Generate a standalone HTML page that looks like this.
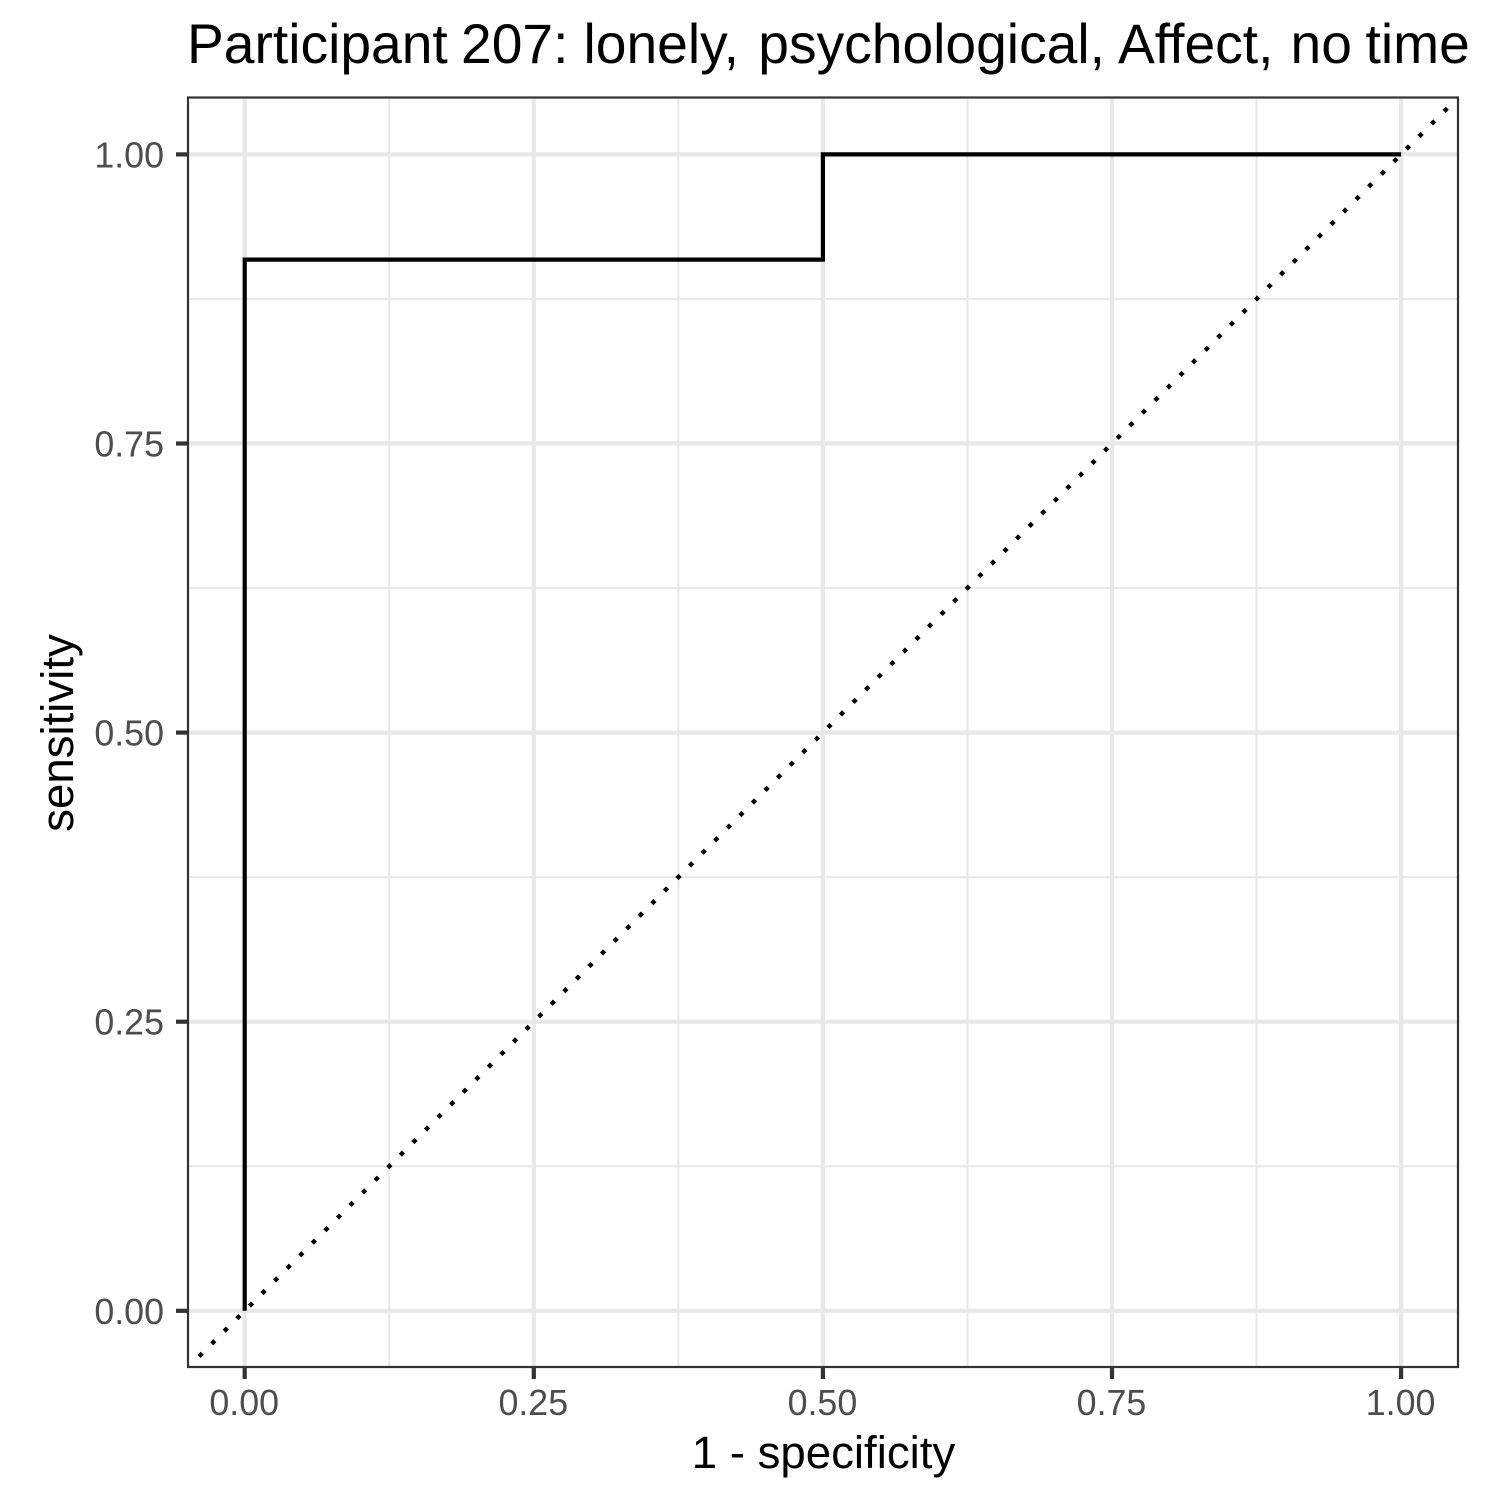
<!DOCTYPE html>
<html lang="en">
<head>
<meta charset="utf-8">
<title>Participant 207 ROC curve</title>
<style>
html,body{margin:0;padding:0;background:#fff;width:1500px;height:1500px;overflow:hidden}
svg{display:block;font-family:"Liberation Sans",Arial,sans-serif;font-variant-ligatures:none}
</style>
</head>
<body>
<svg id="chart" width="1500" height="1500" viewBox="0 0 1500 1500" xmlns="http://www.w3.org/2000/svg">
  <rect x="0" y="0" width="1500" height="1500" fill="#ffffff"/>
  <g id="grid"></g>
  <clipPath id="panel-clip"><rect x="188" y="97.5" width="1270" height="1269.5"/></clipPath>
  <g id="marks" clip-path="url(#panel-clip)"></g>
  <rect x="188" y="97.5" width="1270" height="1269.5" fill="none" stroke="#333333" stroke-width="2.2"/>
  <g id="ticks"></g>
  <text x="187" y="63" font-size="55.2" fill="#000000">Participant <tspan x="461">207:</tspan> <tspan x="583.5">lonely,</tspan> <tspan x="758.3">psychological,</tspan> <tspan x="1118">Affect,</tspan> <tspan x="1290.5">no</tspan> <tspan x="1365.5">time</tspan></text>
  <text x="823.5" y="1468" font-size="45.6" fill="#000000" text-anchor="middle">1 - specificity</text>
  <text transform="translate(73 733) rotate(-90)" font-size="45.6" fill="#000000" text-anchor="middle">sensitivity</text>
</svg>
<script>
const falsePositiveRate = [0, 0, 0.5, 0.5, 1];
const truePositiveRate = [0, 0.909, 0.909, 1, 1];
const majorTicks = [0, 0.25, 0.5, 0.75, 1];
const minorTicks = [0.125, 0.375, 0.625, 0.875];
const tickLabels = ['0.00', '0.25', '0.50', '0.75', '1.00'];
const referenceLine = [-0.05, 1.05];

const NS = 'http://www.w3.org/2000/svg';
const xScale = function (v) { return 244.7 + v * 1156.4; };
const yScale = function (v) { return 1310.8 - v * 1156.4; };
const PANEL = { left: 188, right: 1458, top: 97.5, bottom: 1367 };

function make(tag, attrs, parent) {
  const el = document.createElementNS(NS, tag);
  Object.keys(attrs).forEach(function (k) { el.setAttribute(k, attrs[k]); });
  parent.appendChild(el);
  return el;
}

const grid = document.getElementById('grid');
const marks = document.getElementById('marks');
const ticks = document.getElementById('ticks');

minorTicks.forEach(function (t) {
  const h = make('line', { x1: PANEL.left, x2: PANEL.right, y1: yScale(t), y2: yScale(t), stroke: '#e8e8e8', 'stroke-width': 2.1 }, grid);
  
  
  const v = make('line', { x1: xScale(t), x2: xScale(t), y1: PANEL.top, y2: PANEL.bottom, stroke: '#e8e8e8', 'stroke-width': 2.1 }, grid);
  
  
});

majorTicks.forEach(function (t, i) {
  const h = make('line', { x1: PANEL.left, x2: PANEL.right, y1: yScale(t), y2: yScale(t), stroke: '#e8e8e8', 'stroke-width': 4.2 }, grid);
  
  
  const v = make('line', { x1: xScale(t), x2: xScale(t), y1: PANEL.top, y2: PANEL.bottom, stroke: '#e8e8e8', 'stroke-width': 4.2 }, grid);
  
  

  const tx = make('line', { x1: xScale(t), x2: xScale(t), y1: PANEL.bottom, y2: PANEL.bottom + 12, stroke: '#333333', 'stroke-width': 4.2 }, ticks);
  
  
  const ty = make('line', { x1: PANEL.left - 12, x2: PANEL.left, y1: yScale(t), y2: yScale(t), stroke: '#333333', 'stroke-width': 4.2 }, ticks);
  
  

  const lx = make('text', { x: xScale(t) - 0.5, y: 1415, 'font-size': 35.8, fill: '#4d4d4d', 'text-anchor': 'middle' }, ticks);
  
  
  lx.textContent = tickLabels[i];
  const ly = make('text', { x: 164, y: yScale(t) + 13, 'font-size': 35.8, fill: '#4d4d4d', 'text-anchor': 'end' }, ticks);
  
  
  ly.textContent = tickLabels[i];
});

const diagonal = make('line', {
  x1: xScale(referenceLine[0]), y1: yScale(referenceLine[0]),
  x2: xScale(referenceLine[1]), y2: yScale(referenceLine[1]),
  stroke: '#000000', 'stroke-width': 4.45, 'stroke-dasharray': '4.45 13.335', 'stroke-dashoffset': 0.5
}, marks);



const points = falsePositiveRate.map(function (x, i) { return xScale(x) + ',' + yScale(truePositiveRate[i]); }).join(' ');
const curve = make('polyline', { points: points, fill: 'none', stroke: '#000000', 'stroke-width': 4.2, 'stroke-linejoin': 'miter', 'stroke-linecap': 'butt' }, marks);


</script>
</body>
</html>
